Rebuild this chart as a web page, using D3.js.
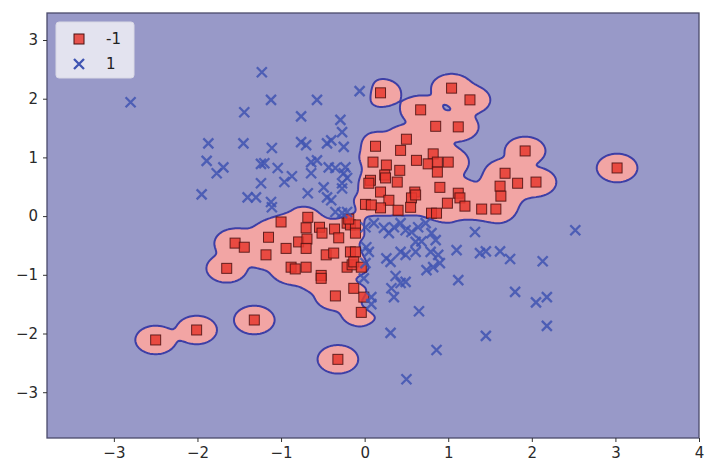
<!DOCTYPE html>
<html>
<head>
    <meta charset="utf-8">
    <title>SVM decision regions</title>
    <script src="https://d3js.org/d3.v7.min.js"></script>
    <style>
        body { margin: 0; background: #fff; }
        .tick text { font-family: "DejaVu Sans", sans-serif; font-size: 15px; fill: #2a2a2a; }
        .tick line { stroke: #333; }
        .domain { display: none; }
        .legend text { font-family: "DejaVu Sans", sans-serif; font-size: 15px; fill: #222; }
    </style>
</head>
<body>
<div id="chart"></div>
<script>
    // class -1 (red squares)
    const classNeg = [
        [-2.50, -2.11], [-2.01, -1.94], [-1.32, -1.77], [-0.32, -2.44], [3.02, 0.82],
        [0.19, 2.10], [1.04, 2.18], [1.26, 1.98], [0.67, 1.81], [0.85, 1.53],
        [1.12, 1.52], [0.50, 1.31], [0.13, 1.19], [0.43, 1.12], [0.82, 1.06],
        [0.10, 0.92], [0.62, 0.95], [0.76, 0.89], [0.87, 0.92], [1.00, 0.92],
        [0.26, 0.87], [0.42, 0.78], [0.24, 0.70], [0.87, 0.75], [1.92, 1.11],
        [1.68, 0.73], [1.83, 0.56], [2.05, 0.58], [0.07, 0.61], [0.05, 0.56],
        [0.39, 0.58], [0.90, 0.49], [1.62, 0.51], [1.63, 0.34], [0.19, 0.41],
        [0.60, 0.41], [0.56, 0.31], [1.12, 0.39], [1.14, 0.31], [0.29, 0.27],
        [0.99, 0.22], [1.20, 0.17], [1.40, 0.12], [1.57, 0.12], [0.01, 0.20],
        [0.19, 0.14], [0.40, 0.10], [0.55, 0.15], [0.80, 0.05], [0.86, 0.05],
        [0.08, 0.19], [0.25, 0.65], [0.61, 0.36],
        [-1.00, -0.10], [-0.68, -0.02], [-1.15, -0.36], [-0.70, -0.20], [-0.54, -0.19],
        [-0.51, -0.29], [-0.36, -0.22], [-1.55, -0.46], [-1.44, -0.53], [-1.18, -0.66],
        [-0.94, -0.55], [-0.79, -0.44], [-0.69, -0.39], [-0.70, -0.55], [-0.46, -0.66],
        [-0.37, -0.63], [-1.65, -0.89], [-0.88, -0.87], [-0.83, -0.90], [-0.70, -0.87],
        [-0.52, -1.01], [-0.52, -1.06], [-0.35, -1.36], [-0.31, -0.37], [-0.21, -0.12],
        [-0.17, -0.15], [-0.11, -0.15], [-0.11, -0.29], [-0.17, -0.61], [-0.11, -0.61],
        [-0.21, -0.87], [-0.15, -0.83], [-0.13, -0.78], [-0.04, -0.87], [-0.13, -1.23],
        [-0.01, -1.38], [-0.04, -1.64], [-0.19, -0.05]
    ];

    // class 1 (blue crosses)
    const classPos = [
        [-2.80, 1.94], [-1.23, 2.45], [-1.12, 1.98], [-0.57, 1.98], [-1.44, 1.77],
        [-0.76, 1.70], [-0.29, 1.64], [-0.27, 1.43], [-1.87, 1.24], [-1.45, 1.24],
        [-0.76, 1.26], [-0.70, 1.21], [-0.45, 1.24], [-0.40, 1.29], [-0.25, 1.18],
        [-1.11, 1.16], [-1.89, 0.94], [-1.69, 0.83], [-1.77, 0.73], [-1.24, 0.89],
        [-1.20, 0.90], [-1.04, 0.82], [-0.64, 0.92], [-0.57, 0.95], [-0.64, 0.73],
        [-0.43, 0.83], [-0.35, 0.82], [-0.23, 0.83], [-0.25, 0.73], [-0.21, 0.65],
        [-0.27, 0.56], [-1.24, 0.56], [-0.87, 0.68], [-0.96, 0.58], [-0.49, 0.49],
        [-0.45, 0.32], [-0.68, 0.39], [-1.95, 0.37], [-1.40, 0.32], [-1.30, 0.32],
        [-1.12, 0.24], [-1.11, 0.15], [-0.35, 0.07], [-0.27, 0.05], [-0.06, 2.13],
        [-0.40, 0.27], [-0.21, 0.07], [-0.27, 0.47],
        [0.01, -0.19], [0.11, -0.12], [0.23, -0.20], [0.29, -0.29], [0.35, -0.19],
        [0.43, -0.12], [0.49, -0.24], [0.56, -0.27], [0.64, -0.19], [0.73, -0.12],
        [0.61, -0.44], [0.80, -0.29], [0.85, -0.41], [0.02, -0.53], [0.05, -0.61],
        [0.43, -0.61], [0.49, -0.66], [0.61, -0.61], [0.79, -0.61], [0.88, -0.66],
        [1.10, -0.58], [0.26, -0.72], [0.31, -0.78], [0.01, -0.80], [0.74, -0.92],
        [0.82, -0.87], [1.12, -1.09], [-0.01, -1.06], [0.43, -1.14], [0.49, -1.12],
        [0.32, -1.23], [0.35, -1.38], [0.08, -1.38], [0.08, -1.50], [0.65, -1.62],
        [0.31, -1.99], [0.86, -2.28], [0.50, -2.78], [1.32, -0.27], [2.52, -0.24],
        [1.38, -0.63], [1.45, -0.60], [1.62, -0.60], [1.74, -0.73], [2.13, -0.77],
        [1.80, -1.29], [2.05, -1.47], [2.18, -1.38], [2.18, -1.87], [1.45, -2.04],
        [0.68, -0.43], [0.37, -1.02], [0.90, -0.80]
    ];

    const xTicks = [-3, -2, -1, 0, 1, 2, 3, 4];
    const yTicks = [-3, -2, -1, 0, 1, 2, 3];
    const legendLabels = ["-1", "1"];

    const width = 705, height = 466;
    const pLeft = 47, pRight = 699, pTop = 13, pBottom = 438;
    const xmin = -3.8, xmax = 4.0, ymin = -3.78, ymax = 3.46;

    const x = d3.scaleLinear().domain([xmin, xmax]).range([pLeft, pRight]);
    const y = d3.scaleLinear().domain([ymin, ymax]).range([pBottom, pTop]);

    const svg = d3.select("#chart").append("svg")
        .attr("width", width).attr("height", height);

    svg.append("clipPath").attr("id", "clip")
        .append("rect").attr("x", pLeft).attr("y", pTop)
        .attr("width", pRight - pLeft).attr("height", pBottom - pTop);

    // background = class 1 region
    svg.append("rect")
        .attr("x", pLeft).attr("y", pTop)
        .attr("width", pRight - pLeft).attr("height", pBottom - pTop)
        .attr("fill", "#9899c8");

    // decision surface: kernel sum of the two classes
    const gamma = 36, thresh = 0.12;
    const nx = 390, ny = 362;
    const dx = (xmax - xmin) / nx, dy = (ymax - ymin) / ny;
    const values = new Float64Array(nx * ny);
    for (let j = 0; j < ny; j++) {
        const py = ymax - (j + 0.5) * dy;
        for (let i = 0; i < nx; i++) {
            const px = xmin + (i + 0.5) * dx;
            let s = 0;
            for (const p of classNeg) {
                const d2 = (px - p[0]) ** 2 + (py - p[1]) ** 2;
                if (d2 < 0.6) s += Math.exp(-gamma * d2);
            }
            for (const p of classPos) {
                const d2 = (px - p[0]) ** 2 + (py - p[1]) ** 2;
                if (d2 < 0.6) s -= Math.exp(-gamma * d2);
            }
            values[j * nx + i] = s;
        }
    }

    const contours = d3.contours().size([nx, ny]).thresholds([thresh])(values);
    const proj = d3.geoTransform({
        point: function(gx, gy) {
            this.stream.point(x(xmin + gx * dx), y(ymax - gy * dy));
        }
    });
    const path = d3.geoPath(proj);

    svg.append("g").attr("clip-path", "url(#clip)")
        .selectAll("path")
        .data(contours)
        .enter().append("path")
        .attr("d", path)
        .attr("fill", "#f2a5a4")
        .attr("stroke", "#3d3fa6")
        .attr("stroke-width", 2)
        .attr("stroke-linejoin", "round");

    // red squares
    const sq = 10;
    svg.append("g").attr("clip-path", "url(#clip)")
        .selectAll("rect")
        .data(classNeg)
        .enter().append("rect")
        .attr("x", d => x(d[0]) - sq / 2)
        .attr("y", d => y(d[1]) - sq / 2)
        .attr("width", sq).attr("height", sq)
        .attr("fill", "#e83a30")
        .attr("fill-opacity", 0.85)
        .attr("stroke", "#4a1010")
        .attr("stroke-opacity", 0.85)
        .attr("stroke-width", 1);

    // blue crosses
    const cs = 5;
    const crossPath = `M${-cs},${-cs}L${cs},${cs}M${-cs},${cs}L${cs},${-cs}`;
    svg.append("g").attr("clip-path", "url(#clip)")
        .selectAll("path")
        .data(classPos)
        .enter().append("path")
        .attr("transform", d => `translate(${x(d[0])},${y(d[1])})`)
        .attr("d", crossPath)
        .attr("fill", "none")
        .attr("stroke", "#3f54b2")
        .attr("stroke-opacity", 0.85)
        .attr("stroke-width", 2.3);

    // frame
    svg.append("rect")
        .attr("x", pLeft).attr("y", pTop)
        .attr("width", pRight - pLeft).attr("height", pBottom - pTop)
        .attr("fill", "none")
        .attr("stroke", "#4b4b6b")
        .attr("stroke-width", 1.3);

    // axes
    const fmt = d => d < 0 ? "\u2212" + Math.abs(d) : String(d);
    svg.append("g")
        .attr("transform", `translate(0,${pBottom})`)
        .call(d3.axisBottom(x).tickValues(xTicks).tickFormat(fmt).tickSize(4).tickPadding(5));
    svg.append("g")
        .attr("transform", `translate(${pLeft},0)`)
        .call(d3.axisLeft(y).tickValues(yTicks).tickFormat(fmt).tickSize(4).tickPadding(5));

    // legend
    const legend = svg.append("g").attr("class", "legend");
    legend.append("rect")
        .attr("x", 56).attr("y", 22).attr("width", 78).attr("height", 56)
        .attr("rx", 3)
        .attr("fill", "#ebebf3").attr("fill-opacity", 0.9)
        .attr("stroke", "#d8d8e4");
    legend.append("rect")
        .attr("x", 74).attr("y", 34).attr("width", 10).attr("height", 10)
        .attr("fill", "#e83a30").attr("fill-opacity", 0.85)
        .attr("stroke", "#4a1010");
    legend.append("path")
        .attr("transform", "translate(79,64)")
        .attr("d", crossPath)
        .attr("fill", "none")
        .attr("stroke", "#3f54b2")
        .attr("stroke-width", 2.3);
    legend.selectAll("text.lbl")
        .data(legendLabels)
        .enter().append("text")
        .attr("class", "lbl")
        .attr("x", 106)
        .attr("y", (d, i) => 44 + i * 25)
        .text(d => d);
</script>
</body>
</html>
